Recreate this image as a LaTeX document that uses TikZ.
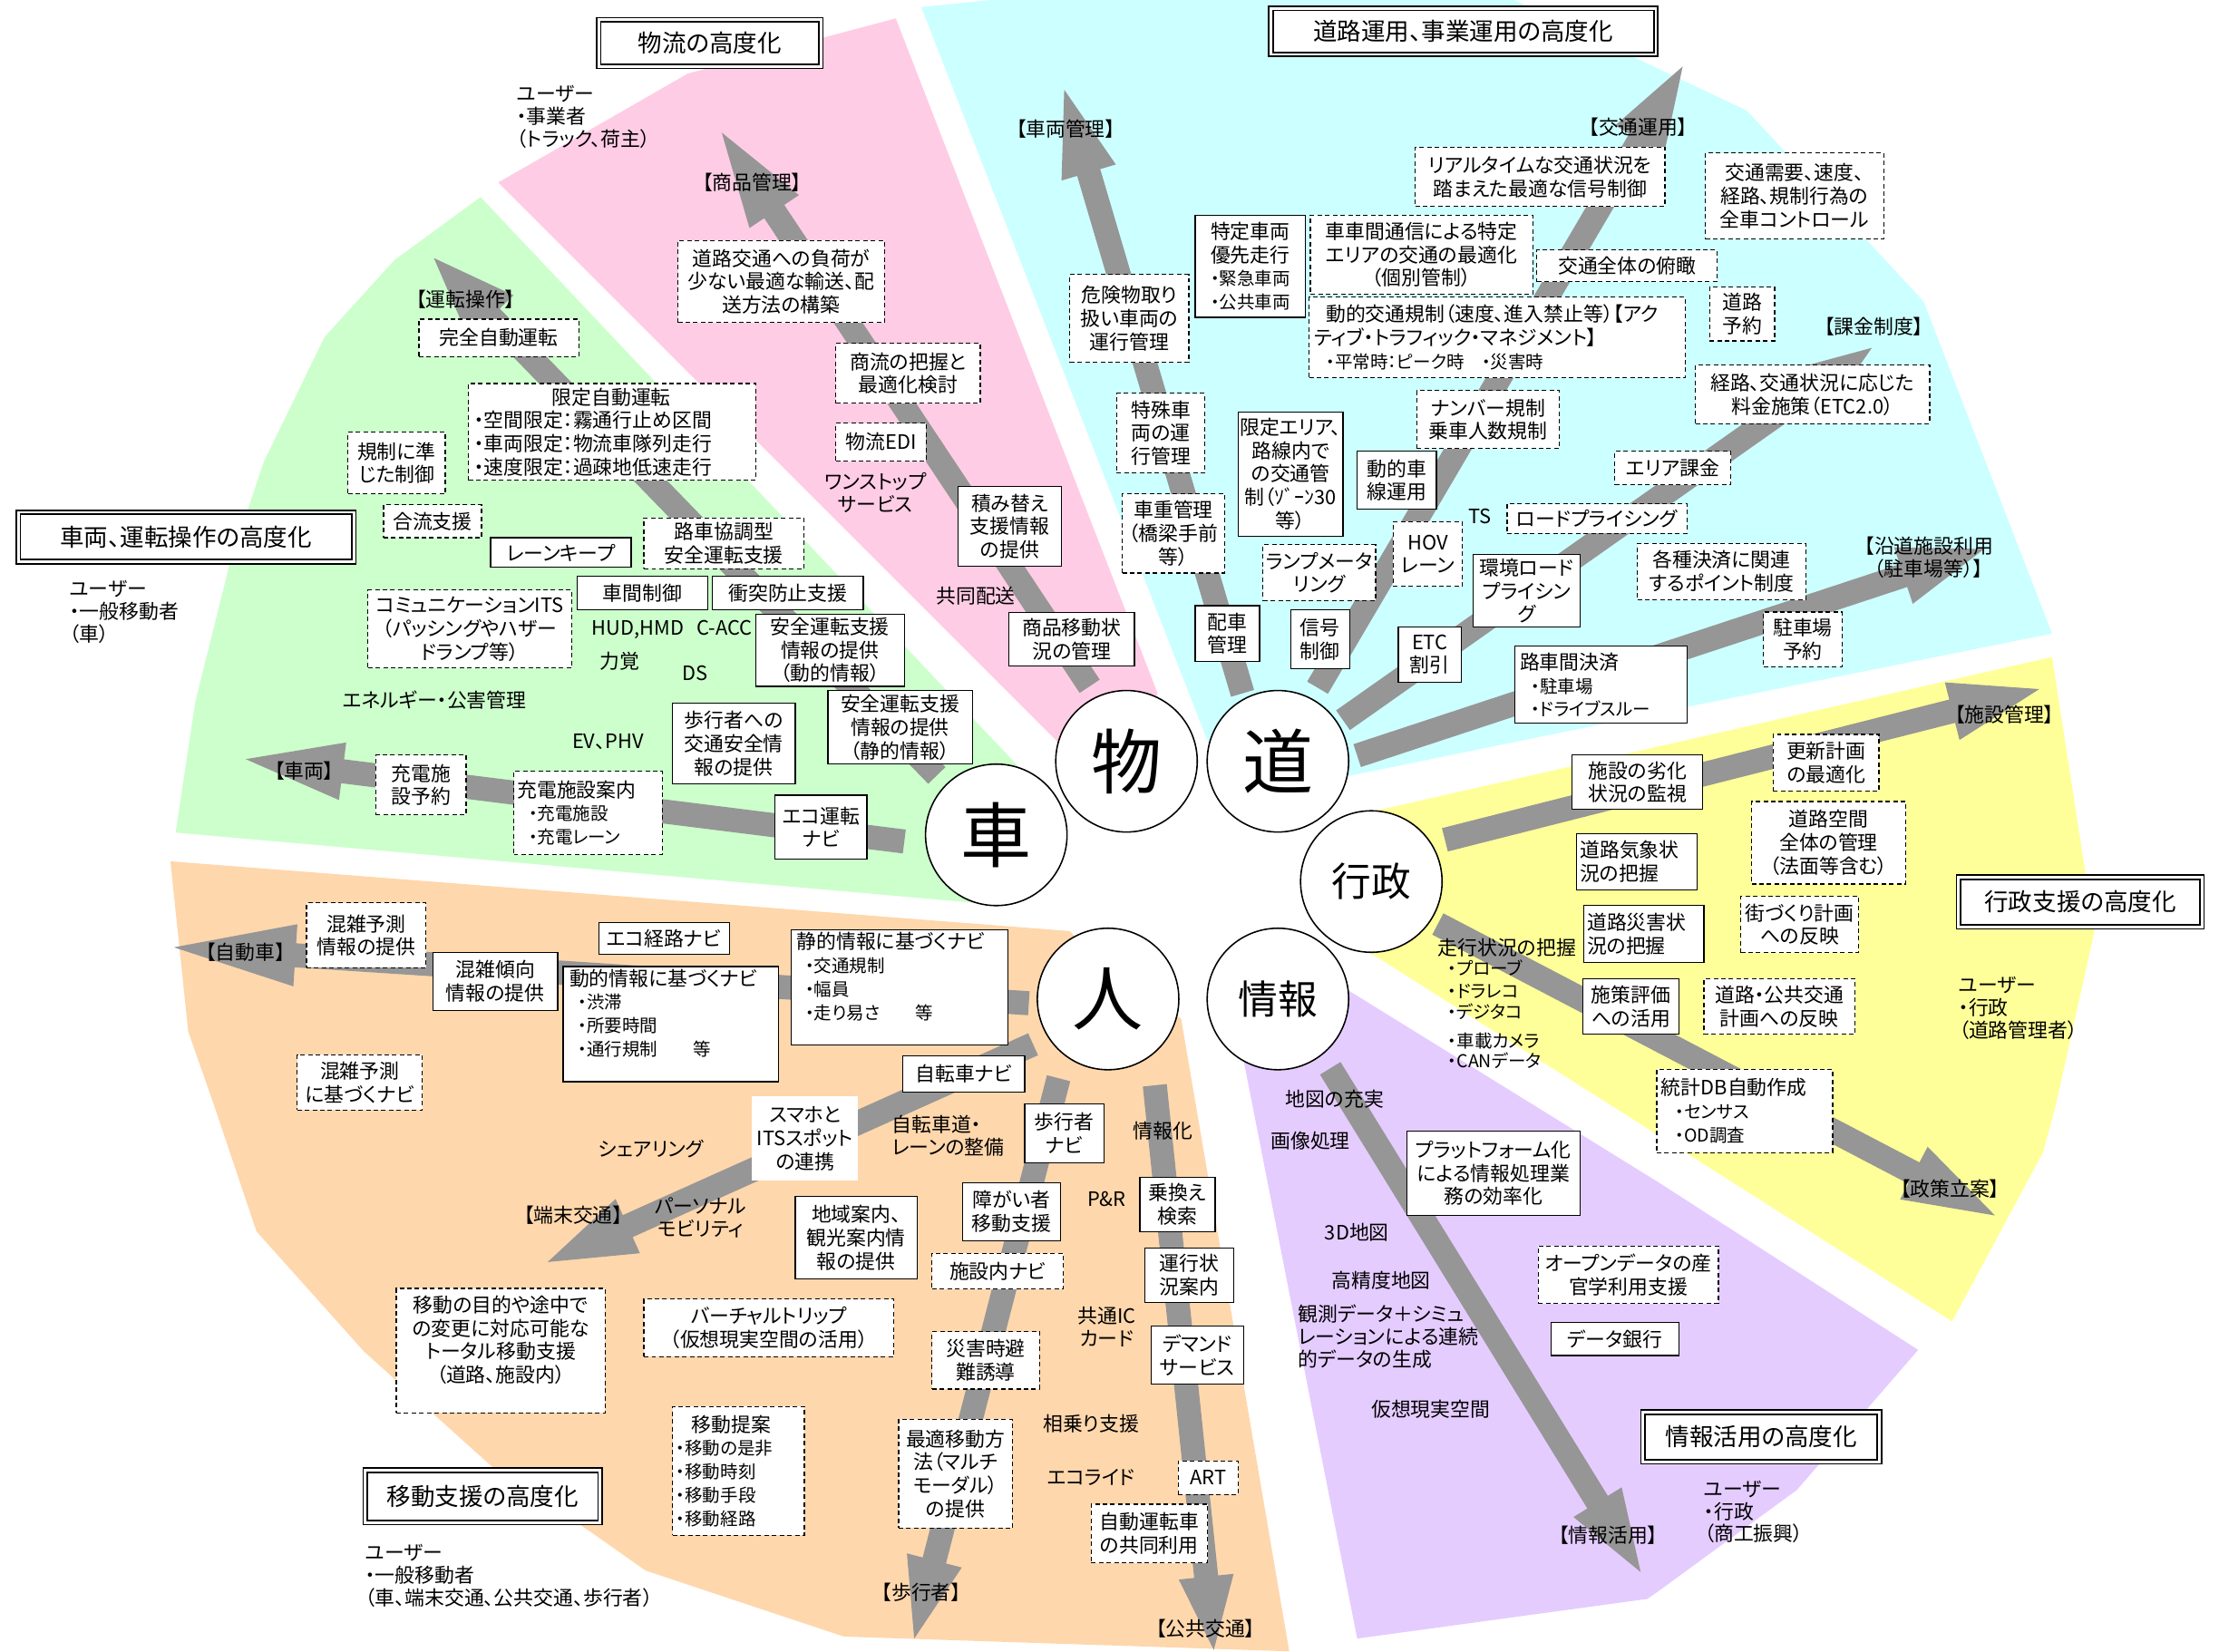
\documentclass[tikz,border=0pt]{standalone}
\usepackage{fontspec}
\setmainfont{Noto Sans CJK JP}[RawFeature={+palt}]
\usetikzlibrary{calc}
\definecolor{cpink}{RGB}{255,204,229}
\definecolor{ccyan}{RGB}{204,255,255}
\definecolor{cgreen}{RGB}{204,255,204}
\definecolor{cyellow}{RGB}{255,255,153}
\definecolor{clav}{RGB}{229,204,255}
\definecolor{corange}{RGB}{255,215,172}
\definecolor{agray}{RGB}{150,150,150}
\newcommand{\bxf}{\fontsize{14}{16.5}\selectfont}
\newcommand{\smallf}{\fontsize{12.5}{15}\selectfont}
\newcommand{\lblf}{\fontsize{14}{16}\selectfont}
\newcommand{\ttlf}{\fontsize{17}{20}\selectfont}
\newcommand{\Bx}[7]{\node[#1, minimum width={(#5-#3)*1pt}, minimum height={(#6-#4)*1pt}] (#2) at ({(#3+#5)/2},{(#4+#6)/2}) {#7};}
\newcommand{\Arr}[5]{%
 \coordinate (#1s) at (#2);
 \coordinate (#1t) at (#3);
 \coordinate (#1b) at ($(#1t)!#4pt!(#1s)$);
 \fill[agray] ($(#1s)!8.5pt!90:(#1t)$) -- ($(#1b)!8.5pt!90:(#1t)$) -- ($(#1b)!#5pt!90:(#1t)$) -- (#1t)
   -- ($(#1b)!#5pt!-90:(#1t)$) -- ($(#1b)!8.5pt!-90:(#1t)$) -- ($(#1s)!8.5pt!-90:(#1t)$) -- cycle;}
\tikzset{
 bxbase/.style={fill=white, inner sep=0pt, align=center, font=\bxf, line width=0.8pt},
 sbx/.style={bxbase, draw},
 dbx/.style={bxbase, draw, dash pattern=on 3.2pt off 2.2pt},
 wbx/.style={bxbase},
 lbl/.style={inner sep=0pt, font=\lblf},
 ttl/.style={draw, double, double distance=1.8pt, line width=1.1pt, fill=white, inner sep=0pt, font=\ttlf},
 circ/.style={circle, draw, fill=white, line width=1pt, minimum size=100pt, inner sep=0pt, font=\fontsize{50}{50}\selectfont},
 circtwo/.style={circ, font=\fontsize{28}{28}\selectfont}
}
\begin{document}
\begin{tikzpicture}[x=1pt,y=-1pt]
\useasboundingbox (0,0) rectangle (1568,1166.9);
% ---------- sectors ----------
\fill[cpink] (352,129) -- (486,52) -- (633,13) -- (818,490) -- (796,538) -- (750,527) -- cycle;
\fill[ccyan] (651,5) -- (700,0) -- (1070,0) -- (1172.6,49) -- (1234.4,78.2) -- (1359.2,213) -- (1450,447.8) -- (1172.6,503.5) -- (945,550) -- (903,538) -- (855,528) -- cycle;
\fill[cgreen] (339.6,139.3) -- (278.7,183.8) -- (229.3,238.2) -- (186.2,326.8) -- (162,399.7) -- (138,496) -- (124.1,588.4) -- (700,639) -- (735,610) -- (718,540) -- cycle;
\fill[corange] (120.4,608.7) -- (756,658) -- (775,680) -- (834.6,720) -- (911,1167) -- (596.3,1156.6) -- (456.3,1110) -- (415.9,1081.6) -- (347.1,1036) -- (257.2,955.1) -- (181.2,870.2) -- (151.5,781.8) -- (133,729) -- cycle;
\fill[clav] (940,692) -- (1172.6,836) -- (1355.4,954) -- (1269.7,1053) -- (1172.6,1124) -- (1164,1130) -- (959,1158) -- (873,720) -- cycle;
\fill[cyellow] (950,578) -- (1450,464.3) -- (1480,658) -- (1452.5,781.8) -- (1443.6,814.5) -- (1379.4,933.9) -- (955,665) -- cycle;
% ---------- arrows ----------
\Arr{drive}{662,548}{306.6,182.4}{58}{22}
\Arr{goods}{770,485}{510,93.7}{67}{21}
\Arr{vmgmt}{878,490}{752,63.4}{61}{20}
\Arr{traffic}{931,486}{1189,47}{60}{20}
\Arr{charge}{949,509}{1322.7,245.8}{55}{20}
\Arr{roadside}{959,534}{1402,388}{60}{21}
\Arr{facility}{1021,593.5}{1441,487}{63.5}{21}
\Arr{policy}{1016,653}{1409.7,859}{64.7}{21}
\Arr{info}{940,755}{1159.3,1111}{58}{20}
\Arr{public}{816,767}{857.7,1166}{52}{19.5}
\Arr{walk}{748,762}{646,1158}{57}{20}
\Arr{terminal}{730,738}{387,891.9}{62}{21}
\Arr{auto}{727,709}{122.9,669.5}{86}{22}
\Arr{vehicle}{639,594.7}{173.6,536.5}{69}{20.5}
% ---------- titles ----------
\Bx{ttl}{tbutsuryu}{423}{14}{580}{47}{物流の高度化}
\Bx{ttl}{tdoro}{898}{6}{1170}{38.5}{道路運用、事業運用の高度化}
\Bx{ttl}{tsharyo}{13}{362}{250}{397}{車両、運転操作の高度化}
\Bx{ttl}{tgyosei}{1384}{620}{1556}{655}{行政支援の高度化}
\Bx{ttl}{tjoho}{1161}{998}{1328}{1033}{情報活用の高度化}
\Bx{ttl}{tido}{258}{1039}{424}{1076}{移動支援の高度化}
% ---------- users ----------
\node[lbl, align=left, anchor=north west] (ubutsu) at (365,60) {ユーザー\\・事業者\\（トラック、荷主）};
\node[lbl, align=left, anchor=north west] (usharyo) at (49,410) {ユーザー\\・一般移動者\\（車）};
\node[lbl, align=left, anchor=north west] (ugyosei) at (1384,690) {ユーザー\\・行政\\（道路管理者）};
\node[lbl, align=left, anchor=north west] (ujoho) at (1204,1046) {ユーザー\\・行政\\（商工振興）};
\node[lbl, align=left, anchor=north west] (uido) at (258,1091) {ユーザー\\・一般移動者\\（車、端末交通、公共交通、歩行者）};
% ---------- green ----------
\Bx{dbx}{kanzen}{296}{225.5}{409}{252}{完全自動運転}
\Bx{dbx, text width=195pt, align=left}{gentei}{331}{271}{534}{339.5}{\hspace*{55pt}限定自動運転\\・空間限定：霧通行止め区間\\・車両限定：物流車隊列走行\\・速度限定：過疎地低速走行}
\Bx{dbx}{kisei}{245.8}{305.3}{314.7}{349.1}{規制に準\\じた制御}
\Bx{dbx}{goryu}{271}{356.7}{340.3}{380}{合流支援}
\Bx{sbx}{lanekeep}{346.6}{380}{446}{401}{レーンキープ}
\Bx{dbx}{rosha}{455}{366}{568}{402}{路車協調型\\安全運転支援}
\Bx{sbx}{shakan}{408}{407}{500}{431}{車間制御}
\Bx{sbx}{shototsu}{503.5}{407}{610}{431}{衝突防止支援}
\Bx{dbx}{comm}{260}{417}{404}{472}{コミュニケーションITS\\（パッシングやハザー\\ドランプ等）}
\Bx{sbx}{anzena}{534}{434}{639}{485}{安全運転支援\\情報の提供\\（動的情報）}
\Bx{sbx}{hokosha}{475}{497}{562}{554}{歩行者への\\交通安全情\\報の提供}
\Bx{sbx}{anzenb}{585}{488}{687}{540}{安全運転支援\\情報の提供\\（静的情報）}
\Bx{dbx}{judena}{265.5}{533.5}{329.4}{575.8}{充電施\\設予約}
\Bx{dbx, text width=100pt, align=left}{judenb}{363}{545}{468}{604}{充電施設案内\\{\smallf\hspace*{8pt}・充電施設}\\{\smallf\hspace*{8pt}・充電レーン}}
\Bx{sbx}{ecodrive}{547.5}{562}{612.6}{607}{エコ運転\\ナビ}
\node[lbl] (hud) at (475,445) {HUD,HMD\hspace{9pt}C-ACC};
\node[lbl] (rikikaku) at (437.7,467.6) {力覚};
\node[lbl] (ds) at (491,476) {DS};
\node[lbl] (ev) at (429.6,524.4) {EV、PHV};
\node[lbl] (energy) at (307,494.7) {エネルギー・公害管理};
% ---------- pink ----------
\Bx{dbx}{butsuryu}{479}{170}{625}{228}{道路交通への負荷が\\少ない最適な輸送、配\\送方法の構築}
\Bx{dbx}{shoryu}{590.6}{242.7}{692.6}{285}{商流の把握と\\最適化検討}
\Bx{dbx}{edi}{590.6}{299}{654.4}{326}{物流EDI}
\node[lbl, align=center] (onestop) at (618.6,348) {ワンストップ\\サービス};
\Bx{sbx}{tsumikae}{677}{344}{750}{400}{積み替え\\支援情報\\の提供}
\node[lbl] (kyodo) at (689.5,421) {共同配送};
\Bx{sbx}{shohin}{713}{433}{801.6}{470.6}{商品移動状\\況の管理}
% ---------- cyan ----------
\Bx{dbx}{kiken}{756}{194}{840}{256}{危険物取り\\扱い車両の\\運行管理}
\Bx{sbx}{tokutei}{844.6}{152}{922.4}{224.2}{特定車両\\優先走行\\{\smallf ・緊急車両}\\{\smallf ・公共車両}}
\Bx{dbx}{shasha}{926}{152}{1083}{208}{車車間通信による特定\\エリアの交通の最適化\\（個別管制）}
\Bx{dbx}{realtime}{1000}{104}{1176.5}{146}{リアルタイムな交通状況を\\踏まえた最適な信号制御}
\Bx{dbx}{fukan}{1086}{176.6}{1213.4}{199}{交通全体の俯瞰}
\Bx{dbx}{zensha}{1205}{108}{1331}{169}{交通需要、速度、\\経路、規制行為の\\全車コントロール}
\Bx{dbx}{doroyoyaku}{1208}{203}{1254}{241}{道路\\予約}
\Bx{dbx, text width=258pt, align=left}{dotekikisei}{925}{210}{1191}{267}{\hspace*{8pt}動的交通規制（速度、進入禁止等）【アク\\ティブ・トラフィック・マネジメント】\\\hspace*{8pt}{\smallf ・平常時：ピーク時　・災害時}}
\Bx{dbx}{tokushu}{789}{278}{851.5}{334}{特殊車\\両の運\\行管理}
\Bx{dbx}{shaju}{793}{349}{865.4}{405}{車重管理\\（橋梁手前\\等）}
\Bx{sbx}{genteiarea}{875}{291}{949}{379}{限定エリア、\\路線内で\\の交通管\\制（ｿﾞｰﾝ30\\等）}
\Bx{sbx}{dotekisha}{959}{319}{1015}{360}{動的車\\線運用}
\Bx{dbx}{number}{1001}{276}{1102}{317}{ナンバー規制\\乗車人数規制}
\Bx{dbx}{areakakin}{1141}{319}{1223}{342.5}{エリア課金}
\Bx{dbx}{keiro}{1198}{258}{1363.5}{299.5}{経路、交通状況に応じた\\料金施策（ETC2.0）}
\node[lbl] (ts) at (1046,365) {TS};
\Bx{dbx}{roadpricing}{1065}{356}{1192}{377}{ロードプライシング}
\Bx{dbx}{ramp}{892.5}{385}{972}{424.5}{ランプメータ\\リング}
\Bx{dbx}{hov}{984.5}{368.6}{1033.4}{414.4}{HOV\\レーン}
\Bx{sbx}{kankyo}{1040.7}{392}{1116.7}{443.3}{環境ロード\\プライシン\\グ}
\Bx{dbx}{point}{1157}{384}{1276}{424}{各種決済に関連\\するポイント制度}
\Bx{sbx}{haisha}{844.6}{428}{890}{467.6}{配車\\管理}
\Bx{sbx}{shingo}{912}{431}{953.6}{472.4}{信号\\制御}
\Bx{sbx}{etc}{988}{443}{1032.6}{482}{ETC\\割引}
\Bx{sbx, text width=115pt, align=left}{roshakan}{1070.6}{456.7}{1192.3}{511.2}{路車間決済\\{\smallf\hspace*{8pt}・駐車場}\\{\smallf\hspace*{8pt}・ドライブスルー}}
\Bx{dbx}{chushayoyaku}{1246}{432.6}{1301.7}{471.2}{駐車場\\予約}
% ---------- yellow ----------
\Bx{sbx}{rekka}{1111}{533.5}{1203}{572}{施設の劣化\\状況の監視}
\Bx{dbx}{koshin}{1253}{519}{1327.7}{559}{更新計画\\の最適化}
\Bx{dbx}{kukan}{1237.7}{566.4}{1346.6}{624.7}{道路空間\\全体の管理\\（法面等含む）}
\Bx{sbx, text width=80pt, align=left}{kisho}{1114}{589}{1199}{629}{道路気象状\\況の把握}
\Bx{sbx, text width=80pt, align=left}{saigai}{1119}{640}{1204}{680.4}{道路災害状\\況の把握}
\Bx{dbx}{machi}{1230}{633.6}{1313.3}{673.3}{街づくり計画\\への反映}
\Bx{sbx}{shisaku}{1118.3}{691.6}{1186.5}{731}{施策評価\\への活用}
\Bx{dbx}{keikaku}{1204}{691.6}{1310.8}{731}{道路・公共交通\\計画への反映}
\Bx{dbx, text width=118pt, align=left}{tokei}{1170.7}{755.7}{1295}{814.6}{統計DB自動作成\\{\smallf\hspace*{10pt}・センサス}\\{\smallf\hspace*{10pt}・OD調査}}
\node[lbl, anchor=west] (soko) at (1016,669.5) {走行状況の把握};
\node[lbl, anchor=west, font=\smallf] (probe) at (1023,684.2) {・プローブ};
\node[lbl, anchor=west, font=\smallf] (dorareko) at (1023,700.7) {・ドラレコ};
\node[lbl, anchor=west, font=\smallf] (dejitako) at (1023,715) {・デジタコ};
\node[lbl, anchor=west, font=\smallf] (camera) at (1023,735.4) {・車載カメラ};
\node[lbl, anchor=west, font=\smallf] (can) at (1023,749.3) {・CANデータ};
% ---------- lavender ----------
\node[lbl] (chizu) at (943,776.5) {地図の充実};
\node[lbl] (gazo) at (926,806.5) {画像処理};
\Bx{sbx}{platform}{994}{799.4}{1116.7}{859}{プラットフォーム化\\による情報処理業\\務の効率化}
\node[lbl] (dthree) at (958.8,871) {3D地図};
\node[lbl] (koseido) at (976,904.7) {高精度地図};
\node[lbl, align=left, anchor=west] (kansoku) at (917,944.5) {観測データ＋シミュ\\レーションによる連続\\的データの生成};
\node[lbl] (kaso) at (1011,996) {仮想現実空間};
\Bx{dbx}{opendata}{1087}{880.6}{1214.2}{921.2}{オープンデータの産\\官学利用支援}
\Bx{sbx}{databank}{1096}{934.4}{1186.5}{958}{データ銀行}
% ---------- orange ----------
\Bx{dbx}{konzatsua}{216.6}{638}{301}{684}{混雑予測\\情報の提供}
\Bx{sbx}{konzatsub}{306}{673}{394}{714}{混雑傾向\\情報の提供}
\Bx{dbx}{konzatsuc}{210}{745.5}{298.5}{784.6}{混雑予測\\に基づくナビ}
\Bx{sbx}{ecoroute}{423}{652}{515.3}{674.6}{エコ経路ナビ}
\Bx{sbx, text width=143pt, align=left}{dotekinavi}{398}{683}{550}{764.5}{動的情報に基づくナビ\\{\smallf\hspace*{6pt}・渋滞}\\{\smallf\hspace*{6pt}・所要時間}\\{\smallf\hspace*{6pt}・通行規制　　等}\\\mbox{}}
\Bx{sbx, text width=145pt, align=left}{seitekinavi}{559}{657}{712}{738.7}{静的情報に基づくナビ\\{\smallf\hspace*{6pt}・交通規制}\\{\smallf\hspace*{6pt}・幅員}\\{\smallf\hspace*{6pt}・走り易さ　　等}\\\mbox{}}
\Bx{sbx}{jitenshanavi}{638}{746}{724}{772}{自転車ナビ}
\Bx{wbx}{sumaho}{531.5}{775}{606.3}{834.4}{スマホと\\ITSスポット\\の連携}
\Bx{sbx}{hokonavi}{724}{780}{780}{821.7}{歩行者\\ナビ}
\node[lbl, align=left] (jitenshado) at (670,803) {自転車道・\\レーンの整備};
\node[lbl] (sharing) at (460,812) {シェアリング};
\node[lbl, align=center] (personal) at (495,860.5) {パーソナル\\モビリティ};
\Bx{sbx}{shogai}{680}{836}{749.4}{876.8}{障がい者\\移動支援}
\Bx{sbx}{chiiki}{562}{845.5}{648}{904}{地域案内、\\観光案内情\\報の提供}
\Bx{dbx}{shisetsunai}{658.6}{885.7}{751.5}{911}{施設内ナビ}
\Bx{dbx, text width=140pt, align=center}{total}{280}{910.5}{427.7}{998.6}{移動の目的や途中で\\の変更に対応可能な\\トータル移動支援\\（道路、施設内）\\\mbox{}}
\Bx{dbx}{virtual}{455}{918}{631.7}{958.8}{バーチャルトリップ\\（仮想現実空間の活用）}
\Bx{dbx}{hinan}{658.6}{941}{734.5}{981.6}{災害時避\\難誘導}
\Bx{dbx, text width=88pt, align=left}{teian}{475.3}{994}{568.4}{1085}{\hspace*{11pt}移動提案\\{\smallf ・移動の是非}\\{\smallf ・移動時刻}\\{\smallf ・移動手段}\\{\smallf ・移動経路}}
\Bx{dbx}{saiteki}{635}{1003}{715.4}{1080}{最適移動方\\法（マルチ\\モーダル）\\の提供}
\node[lbl] (pr) at (782,847.6) {P\&R};
\node[lbl] (johoka) at (821.7,799.4) {情報化};
\Bx{sbx}{norikae}{805.4}{832}{858.6}{870.4}{乗換え\\検索}
\Bx{sbx}{unko}{809}{882}{871.7}{920.4}{運行状\\況案内}
\node[lbl, align=center] (ic) at (782,937.7) {共通IC\\カード};
\Bx{sbx}{demand}{813.5}{937}{878.6}{978.3}{デマンド\\サービス}
\node[lbl] (ainori) at (771,1006) {相乗り支援};
\node[lbl] (ecoride) at (771,1044) {エコライド};
\Bx{dbx}{art}{832.5}{1032.4}{875}{1056.2}{ART}
\Bx{dbx}{jidounten}{771}{1063}{853.2}{1104.4}{自動運転車\\の共同利用}
% ---------- arrow labels ----------
\node[lbl] (lunten) at (329,211.5) {【運転操作】};
\node[lbl] (lshohin) at (531.6,129) {【商品管理】};
\node[lbl] (lsharyokanri) at (753,91) {【車両管理】};
\node[lbl] (lkotsu) at (1157.7,90) {【交通運用】};
\node[lbl] (lkakin) at (1324,230.6) {【課金制度】};
\node[lbl, align=center] (lendo) at (1363,394) {【沿道施設利用\\（駐車場等）】};
\node[lbl] (lshisetsu) at (1416.5,505) {【施設管理】};
\node[lbl] (lseisaku) at (1378,840) {【政策立案】};
\node[lbl] (ljoho) at (1136.5,1085) {【情報活用】};
\node[lbl] (lkokyo) at (852,1151) {【公共交通】};
\node[lbl] (lhoko) at (651,1125.5) {【歩行者】};
\node[lbl] (ltanmatsu) at (405,859) {【端末交通】};
\node[lbl] (ljidosha) at (173.5,673) {【自動車】};
\node[lbl] (lsharyo) at (215,545) {【車両】};
% ---------- hub circles ----------
\node[circ] (kuruma) at (704,590) {車};
\node[circ] (mono) at (796,538) {物};
\node[circ] (michi) at (903,538) {道};
\node[circtwo] (gyosei) at (969,623) {行政};
\node[circ] (hito) at (783,706) {人};
\node[circtwo] (joho) at (903,706) {情報};
\end{tikzpicture}
\end{document}
